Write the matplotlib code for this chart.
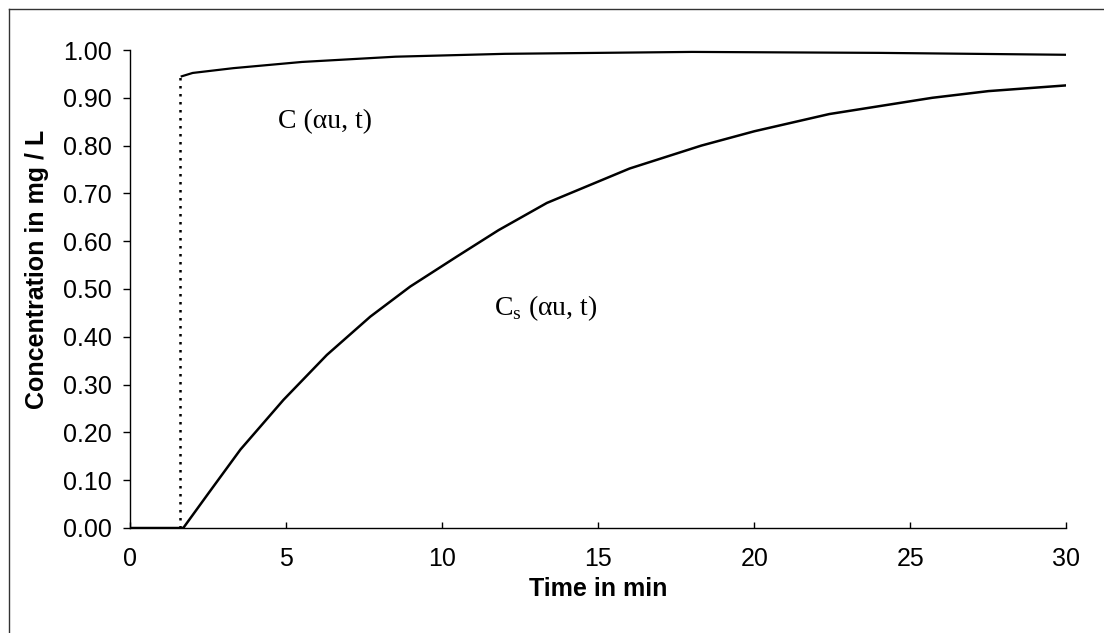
import matplotlib as mpl

mpl.use('Agg')
import matplotlib.pyplot as plt
from matplotlib.lines import Line2D

# data
t_jump = [1.6, 1.6]
c_jump = [0.0, 0.945]

t_zero = [0.0, 1.65]
c_zero = [0.0, 0.0]

t_c = [1.65, 2.0, 3.3, 5.5, 8.5, 12.0, 18.0, 24.0, 30.0]
c_vals = [0.945, 0.952, 0.962, 0.975, 0.986, 0.992, 0.996, 0.994, 0.99]

t_cs = [1.7, 2.5, 3.53, 4.91, 6.3, 7.69, 8.97, 10.47, 11.8, 13.35, 16.0,
        18.3, 20.0, 22.4, 25.7, 27.5, 30.0]
cs_vals = [0.0, 0.072, 0.164, 0.268, 0.362, 0.442, 0.505, 0.568, 0.623, 0.68,
           0.752, 0.8, 0.83, 0.866, 0.9, 0.914, 0.926]

x_ticks = [0, 5, 10, 15, 20, 25, 30]
y_ticks = [0.0, 0.1, 0.2, 0.3, 0.4, 0.5, 0.6, 0.7, 0.8, 0.9, 1.0]

plt.rcParams['font.family'] = ['Liberation Sans', 'DejaVu Sans']
plt.rcParams['mathtext.fontset'] = 'custom'
plt.rcParams['mathtext.rm'] = 'Liberation Serif'

fig = plt.figure(figsize=(11.04, 6.33), dpi=100)
ax = fig.add_axes([0.118, 0.166, 0.848, 0.755])

# curves
ax.plot(t_zero, c_zero, color='black', lw=2.5)
ax.plot(t_jump, c_jump, color='black', lw=1.8, linestyle=(0, (1, 2.2)))
ax.plot(t_c, c_vals, color='black', lw=1.6)
ax.plot(t_cs, cs_vals, color='black', lw=1.8)

# labels on the curves
ax.text(6.25, 0.85, 'C (αu, t)', family='Liberation Serif', fontsize=20,
        ha='center', va='center')
ax.text(13.3, 0.46, r'C$_{\mathrm{s}}$ (αu, t)', family='Liberation Serif',
        fontsize=20, ha='center', va='center')

ax.set_xlim(0, 30)
ax.set_ylim(0, 1.0)
ax.set_xticks(x_ticks)
ax.set_xticklabels([str(v) for v in x_ticks])
ax.set_yticks(y_ticks)
ax.set_yticklabels(['%.2f' % v for v in y_ticks])
ax.tick_params(axis='y', direction='out', length=5, width=1, labelsize=18, pad=8)
ax.tick_params(axis='x', direction='in', length=4, width=1, labelsize=18, pad=14)

for s in ['top', 'right']:
    ax.spines[s].set_visible(False)
for s in ['left', 'bottom']:
    ax.spines[s].set_linewidth(1.0)
    ax.spines[s].set_color('black')

ax.set_xlabel('Time in min', fontsize=18, fontweight='bold', labelpad=4)
ax.set_ylabel('Concentration in mg / L', fontsize=18, fontweight='bold')
ax.yaxis.set_label_coords(-0.087, 0.54)

# outer chart frame (left and top edges visible in the scan)
fig.add_artist(Line2D([0.008, 0.008], [0.0, 0.986], transform=fig.transFigure,
                      color='#333333', lw=1.0))
fig.add_artist(Line2D([0.008, 1.0], [0.986, 0.986], transform=fig.transFigure,
                      color='#333333', lw=1.0))

fig.savefig('out.png', dpi=100)
